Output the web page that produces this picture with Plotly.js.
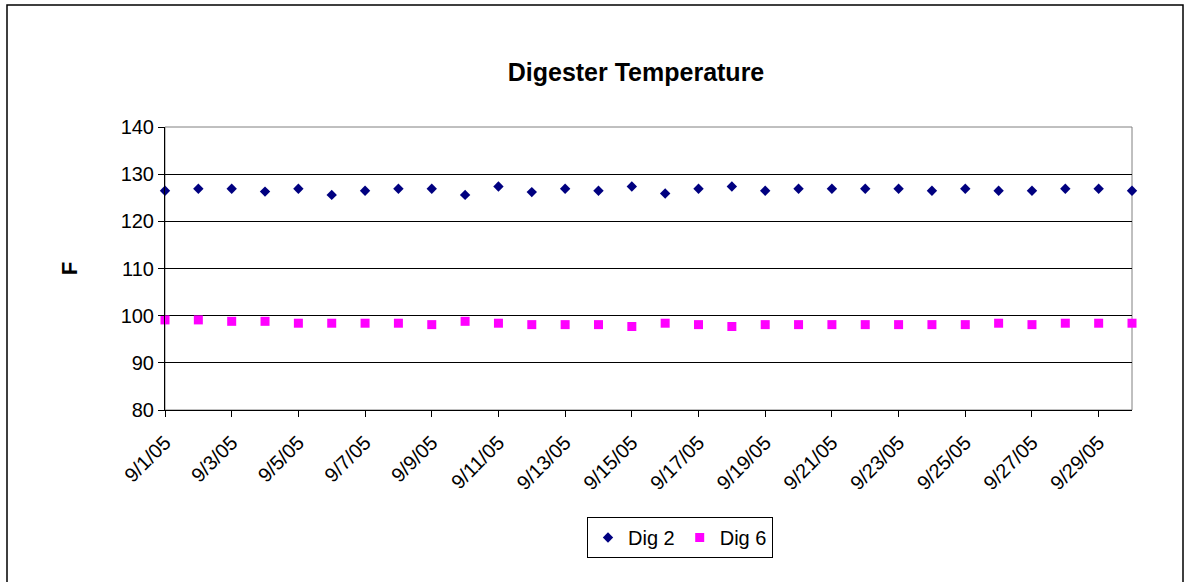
<!DOCTYPE html>
<html>
<head>
<meta charset="utf-8">
<script src="https://cdn.plot.ly/plotly-3.0.1.min.js"></script>
<style>
  html, body { margin: 0; padding: 0; background: #fff; }
  #chart { width: 1188px; height: 582px; }
</style>
</head>
<body>
<div id="chart"></div>
<script>
// ---- data ----
const dates = [
  '2005-09-01','2005-09-02','2005-09-03','2005-09-04','2005-09-05',
  '2005-09-06','2005-09-07','2005-09-08','2005-09-09','2005-09-10',
  '2005-09-11','2005-09-12','2005-09-13','2005-09-14','2005-09-15',
  '2005-09-16','2005-09-17','2005-09-18','2005-09-19','2005-09-20',
  '2005-09-21','2005-09-22','2005-09-23','2005-09-24','2005-09-25',
  '2005-09-26','2005-09-27','2005-09-28','2005-09-29','2005-09-30'
];
const dig2 = [
  126.5, 126.9, 126.9, 126.3, 126.9, 125.6, 126.5, 126.9, 126.9, 125.6,
  127.4, 126.2, 126.9, 126.5, 127.4, 125.9, 126.9, 127.4, 126.5, 126.9,
  126.9, 126.9, 126.9, 126.5, 126.9, 126.5, 126.5, 126.9, 126.9, 126.5
];
const dig6 = [
  99.1, 99.1, 98.8, 98.8, 98.4, 98.4, 98.4, 98.4, 98.1, 98.8,
  98.4, 98.1, 98.1, 98.1, 97.7, 98.4, 98.1, 97.7, 98.1, 98.1,
  98.1, 98.1, 98.1, 98.1, 98.1, 98.4, 98.1, 98.4, 98.4, 98.4
];
const tickDates = [
  '2005-09-01','2005-09-03','2005-09-05','2005-09-07','2005-09-09',
  '2005-09-11','2005-09-13','2005-09-15','2005-09-17','2005-09-19',
  '2005-09-21','2005-09-23','2005-09-25','2005-09-27','2005-09-29'
];
const tickLabels = [
  '9/1/05','9/3/05','9/5/05','9/7/05','9/9/05',
  '9/11/05','9/13/05','9/15/05','9/17/05','9/19/05',
  '9/21/05','9/23/05','9/25/05','9/27/05','9/29/05'
];
const yTicks = [80, 90, 100, 110, 120, 130, 140];

const FONT = 'Liberation Sans, Arial, sans-serif';

const traces = [
  {
    x: dates, y: dig2, name: 'Dig 2', type: 'scatter', mode: 'markers',
    cliponaxis: false,
    marker: { symbol: 'diamond', size: 8, color: '#000080', line: { width: 0 } }
  },
  {
    x: dates, y: dig6, name: 'Dig 6', type: 'scatter', mode: 'markers',
    cliponaxis: false,
    marker: { symbol: 'square', size: 9, color: '#FF00FF', line: { width: 0 } }
  }
];

const L = 165, R = 56, T = 127, B = 172;
const W = 1188 - L - R, H = 582 - T - B;

const layout = {
  width: 1188, height: 582,
  margin: { l: L, r: R, t: T, b: B, pad: 0 },
  paper_bgcolor: '#fff', plot_bgcolor: '#fff',
  font: { family: FONT, size: 20, color: '#000' },
  title: {
    text: '<b>Digester Temperature</b>',
    font: { family: FONT, size: 25, color: '#000' },
    x: (636 - L) / W, xanchor: 'center', xref: 'paper',
    y: 1 - 72 / 582, yanchor: 'middle', yref: 'container'
  },
  xaxis: {
    type: 'date',
    range: [dates[0], dates[dates.length - 1]],
    tickmode: 'array', tickvals: tickDates, ticktext: tickLabels,
    tickangle: -45,
    ticks: 'outside', ticklen: 6, tickcolor: '#000', tickwidth: 1,
    ticklabelstandoff: 6,
    showgrid: false, zeroline: false,
    showline: true, linecolor: '#000', linewidth: 1,
    tickfont: { family: FONT, size: 20, color: '#000' },
    automargin: false, fixedrange: true
  },
  yaxis: {
    range: [80, 140],
    tickmode: 'array', tickvals: yTicks,
    ticks: 'outside', ticklen: 6, tickcolor: '#000', tickwidth: 1,
    showgrid: true, gridcolor: '#000', gridwidth: 1,
    zeroline: false,
    showline: true, linecolor: '#000', linewidth: 1,
    tickfont: { family: FONT, size: 20, color: '#000' },
    title: { text: '<b>F</b>', font: { family: FONT, size: 22, color: '#000' }, standoff: 36 },
    automargin: false, fixedrange: true
  },
  showlegend: true,
  legend: {
    orientation: 'h',
    x: (680 - L) / W, xanchor: 'center',
    y: (410 - 517) / H, yanchor: 'top',
    bgcolor: '#fff', bordercolor: '#000', borderwidth: 1,
    font: { family: FONT, size: 20, color: '#000' },
    itemwidth: 30, tracegroupgap: 0
  },
  shapes: [
    // grey top / right border of the plot area
    { type: 'rect', xref: 'paper', yref: 'paper', x0: 0, x1: 1, y0: 0, y1: 1,
      line: { color: '#808080', width: 1 }, layer: 'below' },
    // chart-area outer frame
    { type: 'rect', xref: 'paper', yref: 'paper',
      x0: (7 - L) / W, x1: (1183 - L) / W,
      y0: (410 - 600) / H, y1: (410 - 5) / H,
      line: { color: '#000', width: 1.5 }, fillcolor: 'rgba(0,0,0,0)', layer: 'below' }
  ]
};

Plotly.newPlot('chart', traces, layout, { staticPlot: true, displayModeBar: false });
</script>
</body>
</html>
